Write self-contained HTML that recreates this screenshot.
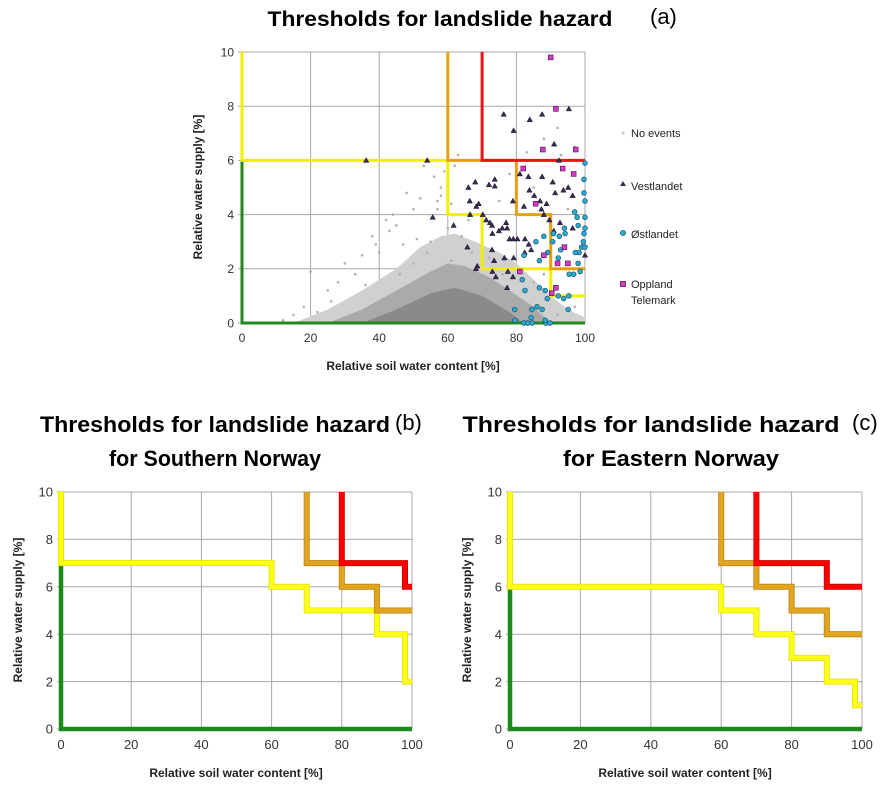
<!DOCTYPE html>
<html><head><meta charset="utf-8"><style>
html,body{margin:0;padding:0;background:#fff;}
svg{display:block;font-family:"Liberation Sans",sans-serif;}
</style></head><body>
<svg id="chart" width="887" height="795" viewBox="0 0 887 795" xmlns="http://www.w3.org/2000/svg">
<text x="440" y="26" font-size="21" font-weight="bold" text-anchor="middle" textLength="345" lengthAdjust="spacingAndGlyphs">Thresholds for landslide hazard</text>
<text x="650" y="24" font-size="22">(a)</text>
<text x="215" y="432" font-size="22" font-weight="bold" text-anchor="middle" textLength="350" lengthAdjust="spacingAndGlyphs">Thresholds for landslide hazard</text>
<text x="215" y="466" font-size="22" font-weight="bold" text-anchor="middle" textLength="212" lengthAdjust="spacingAndGlyphs">for Southern Norway</text>
<text x="395" y="430" font-size="22">(b)</text>
<text x="651" y="432" font-size="22" font-weight="bold" text-anchor="middle" textLength="377" lengthAdjust="spacingAndGlyphs">Thresholds for landslide hazard</text>
<text x="671" y="466" font-size="22" font-weight="bold" text-anchor="middle" textLength="216" lengthAdjust="spacingAndGlyphs">for Eastern Norway</text>
<text x="852" y="430" font-size="22">(c)</text>
<g font-size="11" fill="#222">
<circle cx="623" cy="133" r="1.5" fill="#c8c8c8"/>
<text x="631" y="137">No events</text>
<polygon points="623,181 626,186 620,186" fill="#3c2a55"/>
<text x="631" y="190">Vestlandet</text>
<circle cx="623" cy="233" r="2.5" fill="#2aaad0" stroke="#1d4f6a" stroke-width="0.8"/>
<text x="631" y="238">Østlandet</text>
<rect x="620.5" y="281.5" width="5" height="5" fill="#d43cc8" stroke="#5a1a5a" stroke-width="0.8"/>
<text x="631" y="288">Oppland</text>
<text x="631" y="304">Telemark</text>
</g>
</svg>
<script>
// ---- data ----
const xTicks = [0,20,40,60,80,100];
const yTicks = [0,2,4,6,8,10];
// panel a thresholds
const aYellowX=[0,0,60,60,70,70,90,90,100], aYellowY=[10,6,6,4,4,2,2,1,1];
const aOrangeX=[60,60,80,80,90,90,100], aOrangeY=[10,6,6,4,4,2,2];
const aRedX=[70,70,100], aRedY=[10,6,6];
const aGreenX=[0,0,100], aGreenY=[6,0,0];
// panel b thresholds
const bYellowX=[0,0,60,60,70,70,90,90,98,98,100], bYellowY=[10,7,7,6,6,5,5,4,4,2,2];
const bOrangeX=[70,70,80,80,90,90,100], bOrangeY=[10,7,7,6,6,5,5];
const bRedX=[80,80,98,98,100], bRedY=[10,7,7,6,6];
const bGreenX=[0,0,100], bGreenY=[7,0,0];
// panel c thresholds
const cYellowX=[0,0,60,60,70,70,80,80,90,90,98,98,100], cYellowY=[10,6,6,5,5,4,4,3,3,2,2,1,1];
const cOrangeX=[60,60,70,70,80,80,90,90,100], cOrangeY=[10,7,7,6,6,5,5,4,4];
const cRedX=[70,70,90,90,100], cRedY=[10,7,7,6,6];
const cGreenX=[0,0,100], cGreenY=[6,0,0];
// no-event density cloud outlines (x,y)
const outerX=[15,25,35,45,52,58,62,68,75,80,85,90,95,100,100];
const outerY=[0,0.5,1.2,2.0,2.8,3.2,3.3,3.0,2.6,2.2,1.6,1.0,0.5,0.2,0];
const cloudX=[25,35,45,55,60,65,72,78,85,90];
const cloudY=[0,0.5,1.2,1.9,2.2,2.1,1.7,1.2,0.6,0];
const coreX=[35,45,55,62,70,78,82];
const coreY=[0,0.5,1.1,1.3,1.0,0.4,0];
// sparse no-event points
const grayX=[25,18,15,20,28,35,38,45,50,52,56,58,62,63,42,47,33,30,44,55,57,48,40,36,26,60,64,66,75,78,83,88,92,93,97,85,95,12,22,53,59,50,46,54,61,67,72,76,85,88,92,97,58,60,61,57,43,39,51];
const grayY=[1.2,0.6,0.3,1.9,1.5,2.5,3.2,3.6,4.2,4.6,5.4,5.0,5.8,6.2,3.8,2.9,1.8,2.2,4.0,3.0,4.5,4.8,2.6,1.4,0.8,3.5,3.2,3.8,4.5,5.5,6.3,6.8,7.2,6.2,6.5,5.0,4.2,0.1,0.4,5.8,5.6,2.2,1.8,2.6,2.3,2.6,2.4,1.8,1.5,1.8,0.3,0.6,4.7,4.9,4.4,4.2,3.4,2.9,3.1];
// Vestlandet events
const vestX=[36.2,54,76.3,83.9,87.5,95.3,79.2,91,92.4,81,83.5,87.5,90.6,68,72,73.7,73.7,66,83.8,93.7,95.1,85.2,91.3,96.4,66.4,68.3,69,79,82.2,86.9,88.8,87.3,88,66.5,70.2,71.2,72.3,55.6,77,75.9,72.9,74.9,77.3,61.7,78,79.1,80.3,82.5,73,72.9,65.7,83.6,82.4,84.3,89.6,92.7,90.9,96.4,73.5,76.5,79.2,68.6,68.2,77.5,73,74,79,77.3,100];
const vestY=[6,6,7.7,7.5,7.7,7.9,7.1,6.6,6,5.5,5.4,5.4,5.2,5.2,5.1,5.3,5.05,5,4.9,4.9,5,4.7,4.8,4.7,4.5,4.3,4.4,4.5,4.3,4.5,4.4,4.2,4,4,4,3.8,3.7,3.9,3.7,3.5,3.6,3.4,3.5,3.6,3.1,3.1,3.1,3.1,3.3,2.7,2.8,2.9,2.6,2.7,3.8,3.7,3.4,3.5,2.3,2.4,2.4,2.1,2,1.9,1.9,1.7,1.7,1.3,2.5];
// Østlandet events
const ostX=[100,99.7,99.7,100,97,97.7,100,98,100,99.7,99.5,99,98.3,97.2,100,98,98.6,95.4,96.7,94.2,94,92.5,90.8,90.6,92.2,92.9,88,85.7,82.2,86.7,89.1,81.7,82.5,86.7,88.4,89,92.2,93.8,95.3,95.1,79.5,84.5,86,87.5,84.3,79.6,82.2,83.3,84.6,88.6,89.8,88.4];
const ostY=[5.9,5.3,4.8,4.5,4.1,3.9,3.9,3.6,3.5,3.3,3,2.8,2.6,2.6,2.8,2.2,1.9,1.8,1.8,3.3,3.5,3.2,3.3,3,2.4,2.7,3.2,3,2.5,2.3,2.6,1.6,1.2,1.3,1.2,0.9,1,0.9,1,0.5,0.5,0.5,0.6,0.5,0.2,0.1,0,0,0,0,0,0.1];
// Oppland/Telemark events
const oppX=[90,91.5,87.7,97.3,82,93.5,96.7,85.6,88,94,92,95,81,91.5,90.3];
const oppY=[9.8,7.9,6.4,6.4,5.7,5.7,5.5,4.4,2.5,2.8,2.2,2.2,1.9,1.3,1.1];

// ---- drawing ----
const NS='http://www.w3.org/2000/svg';
const svg=document.getElementById('chart');
function mk(tag,attrs,parent){const e=document.createElementNS(NS,tag);for(const k in attrs)e.setAttribute(k,attrs[k]);(parent||svg).appendChild(e);return e;}
function panel(id,x0,x1,y0,y1,fs,lw){
  const g=mk('g',{});
  
  
  const sx=v=>x0+(x1-x0)*v/100, sy=v=>y0-(y0-y1)*v/10;
  xTicks.forEach(t=>{const l=mk('line',{x1:sx(t),x2:sx(t),y1:y1,y2:y0,stroke:'#a8a8a8','stroke-width':1},g);
    
    
    const tx=mk('text',{x:sx(t),y:y0+fs+7,'font-size':fs,'text-anchor':'middle',fill:'#333'},g);tx.textContent=t;
    
    });
  yTicks.forEach(t=>{const l=mk('line',{x1:x0-4,x2:x1,y1:sy(t),y2:sy(t),stroke:'#a8a8a8','stroke-width':1},g);
    
    
    const tx=mk('text',{x:x0-8,y:sy(t)+fs*0.36,'font-size':fs,'text-anchor':'end',fill:'#333'},g);tx.textContent=t;
    
    });
  return {g,sx,sy,lw};
}
function step(p,xs,ys,color,name,edge){
  const d=xs.map((x,i)=>(i?'L':'M')+p.sx(x)+','+p.sy(ys[i])).join(' ');
  if(edge){const e=mk('path',{d,fill:'none',stroke:edge,'stroke-width':p.lw+1.5,'stroke-linejoin':'miter'},p.g);
    
    }
  const l=mk('path',{d,fill:'none',stroke:color,'stroke-width':p.lw,'stroke-linejoin':'miter'},p.g);
  
  
}
function axisLabels(cx,cy,lx,ly,fs){
  const a=mk('text',{x:cx,y:cy,'font-size':fs,'font-weight':'bold','text-anchor':'middle',fill:'#222'});a.textContent='Relative soil water content [%]';
  
  
  const b=mk('text',{x:lx,y:ly,'font-size':fs,'font-weight':'bold','text-anchor':'middle',fill:'#222',transform:'rotate(-90 '+lx+' '+ly+')'});b.textContent='Relative water supply [%]';
  
  
}
// Panel A
const A=panel('a',242,585,323,52,12,3);
const pc=(xs,ys)=>xs.map((x,i)=>A.sx(x)+','+A.sy(ys[i])).join(' ');
const ou=mk('polygon',{points:pc(outerX,outerY),fill:'#d0d0d0'},A.g);


const cl=mk('polygon',{points:pc(cloudX,cloudY),fill:'#aaaaaa'},A.g);


const co=mk('polygon',{points:pc(coreX,coreY),fill:'#8a8a8a'},A.g);


grayX.forEach((x,i)=>{const c=mk('circle',{cx:A.sx(x),cy:A.sy(grayY[i]),r:1.3,fill:'#b0b0b0'},A.g);
  
  });
step(A,aGreenX,aGreenY,'#1e8a1e','threshold-green');
step(A,aYellowX,aYellowY,'#f2f000','threshold-yellow');
step(A,aOrangeX,aOrangeY,'#e8a010','threshold-orange');
step(A,aRedX,aRedY,'#ee1111','threshold-red');
vestX.forEach((x,i)=>{const px=A.sx(x),py=A.sy(vestY[i]);
  const t=mk('polygon',{points:(px)+','+(py-2.8)+' '+(px+2.7)+','+(py+2)+' '+(px-2.7)+','+(py+2),fill:'#3c2a55',stroke:'#1a1025','stroke-width':0.5},A.g);
  
  });
ostX.forEach((x,i)=>{const c=mk('circle',{cx:A.sx(x),cy:A.sy(ostY[i]),r:2.4,fill:'#2aaad0',stroke:'#1d4f6a','stroke-width':0.7},A.g);
  
  });
oppX.forEach((x,i)=>{const r=mk('rect',{x:A.sx(x)-2.4,y:A.sy(oppY[i])-2.4,width:4.8,height:4.8,fill:'#d43cc8',stroke:'#5a1a5a','stroke-width':0.7},A.g);
  
  });
axisLabels(413,370,202,187,12);
// Panel B
const B=panel('b',61,412,729,492,13,4.5);
step(B,bGreenX,bGreenY,'#1e8a1e','threshold-green');
step(B,bYellowX,bYellowY,'#ffff1a','threshold-yellow','#e0e000');
step(B,bOrangeX,bOrangeY,'#e2a520','threshold-orange','#b88010');
step(B,bRedX,bRedY,'#ff0000','threshold-red','#c00000');
axisLabels(236,777,22,610,12);
// Panel C
const C=panel('c',510,862,729,492,13,4.5);
step(C,cGreenX,cGreenY,'#1e8a1e','threshold-green');
step(C,cYellowX,cYellowY,'#ffff1a','threshold-yellow','#e0e000');
step(C,cOrangeX,cOrangeY,'#e2a520','threshold-orange','#b88010');
step(C,cRedX,cRedY,'#ff0000','threshold-red','#c00000');
axisLabels(685,777,471,610,12);
</script>
</body></html>
